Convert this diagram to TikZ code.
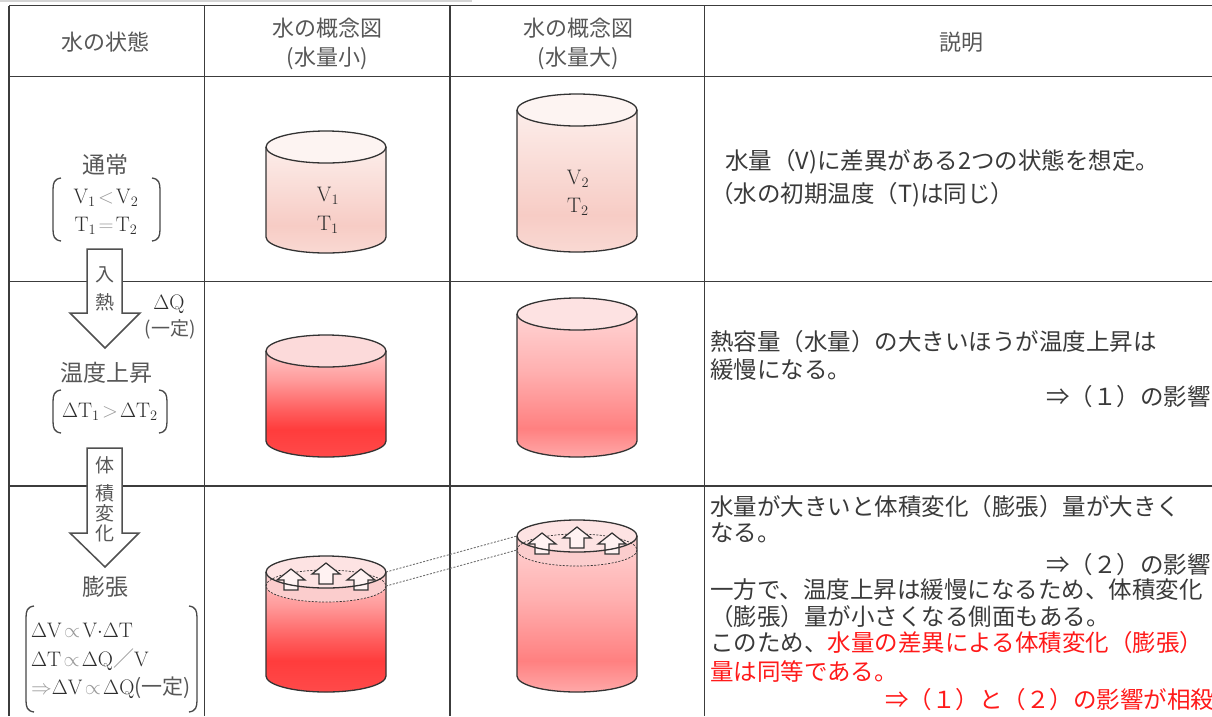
\documentclass[tikz,border=0pt]{standalone}
\usepackage{fontspec}
\newfontfamily\jp{Noto Sans CJK JP}

% palette
\definecolor{rulecol}{HTML}{3C3C3C}
\definecolor{faintrule}{HTML}{D4D4D4}
\definecolor{soft}{HTML}{575757}
\definecolor{mathink}{HTML}{2E2E2E}
\definecolor{faint}{HTML}{9A9A9A}
\definecolor{ink}{HTML}{3A3A3A}
\definecolor{alert}{HTML}{FF1A1A}
\definecolor{cylline}{HTML}{333333}
\definecolor{linkcol}{HTML}{707070}
\definecolor{brk}{HTML}{484848}
\definecolor{arrowcol}{HTML}{505050}
\definecolor{arrowfill}{HTML}{FFF2F2}

% body colours of the water columns
\definecolor{pA1}{HTML}{FCEDEA}
\definecolor{pA2}{HTML}{FAE0DB}
\definecolor{pA3}{HTML}{F7CCC5}
\definecolor{pA4}{HTML}{F9D9D3}
\definecolor{rB1}{HTML}{FFC8C8}
\definecolor{rB2}{HTML}{FF9A9A}
\definecolor{rB3}{HTML}{FF5E5E}
\definecolor{rB4}{HTML}{FF3C3C}
\definecolor{rB5}{HTML}{FF4A4A}
\definecolor{kC1}{HTML}{FFD3D3}
\definecolor{kC2}{HTML}{FFB0B0}
\definecolor{kC3}{HTML}{FF8080}
\definecolor{kC4}{HTML}{FFA8A8}
\definecolor{topA}{HTML}{FDF4F2}
\definecolor{topB}{HTML}{FCDADA}
\definecolor{topC}{HTML}{FDE2E2}
\definecolor{topD}{HTML}{FDE3E3}
\definecolor{bandD}{HTML}{FBCDCD}

% vertical shadings: the path's box is mapped onto 25bp..75bp
\pgfdeclareverticalshading{paleBody}{100bp}{color(0bp)=(pA4); color(25bp)=(pA4); color(38bp)=(pA3); color(60bp)=(pA2); color(75bp)=(pA1); color(100bp)=(pA1)}
\pgfdeclareverticalshading{hotBody}{100bp}{color(0bp)=(rB5); color(25bp)=(rB5); color(38bp)=(rB4); color(47bp)=(rB3); color(61bp)=(rB2); color(75bp)=(rB1); color(100bp)=(rB1)}
\pgfdeclareverticalshading{warmBody}{100bp}{color(0bp)=(kC4); color(25bp)=(kC4); color(35bp)=(kC3); color(55bp)=(kC2); color(75bp)=(kC1); color(100bp)=(kC1)}

% cylinder pieces: cx, top centre y, bottom centre y
\newcommand\cylfaces[5]{%
  \shade[shading=#4] (#1-60,#2) -- (#1-60,#3)
    arc[start angle=180,end angle=0,x radius=60,y radius=16] -- (#1+60,#2) -- cycle;
  \fill[#5] (#1,#2) ellipse[x radius=60,y radius=16];
}
\newcommand\cyloutline[3]{%
  \draw[outline] (#1-60,#2) -- (#1-60,#3)
    arc[start angle=180,end angle=0,x radius=60,y radius=16] -- (#1+60,#2);
  \draw[outline] (#1,#2) ellipse[x radius=60,y radius=16];
}
% band between the raised surface and the former water level
\newcommand\riseband[4]{%
  \fill[#4] (#1-60,#2) arc[start angle=180,end angle=0,x radius=60,y radius=16]
    -- (#1+60,#3) arc[start angle=0,end angle=180,x radius=60,y radius=16] -- cycle;
}
% small hollow up-arrow: centre x, tip y
\newcommand\risearrow[2]{%
  \draw[rise] (#1,#2) -- ++(14,11) -- ++(-7,0) -- ++(0,10) -- ++(-14,0)
    -- ++(0,-10) -- ++(-7,0) -- cycle;
}
% round brackets: x, top, bottom
\newcommand\lbrk[3]{\draw[bracket] (#1+8,#2) .. controls (#1+1,#2+1) and (#1,#2+5) .. (#1,#2+12) -- (#1,#3-12) .. controls (#1,#3-5) and (#1+1,#3-1) .. (#1+8,#3);}
\newcommand\rbrk[3]{\draw[bracket] (#1-8,#2) .. controls (#1-1,#2+1) and (#1,#2+5) .. (#1,#2+12) -- (#1,#3-12) .. controls (#1,#3-5) and (#1-1,#3-1) .. (#1-8,#3);}

\begin{document}
\begin{tikzpicture}[x=1pt,y=-1pt,
  grid/.style={draw=rulecol,line width=1.8pt},
  head/.style={font=\jp\fontsize{22}{26}\selectfont,text=soft,inner sep=0pt},
  state/.style={font=\jp\fontsize{23}{27}\selectfont,text=soft,inner sep=0pt},
  formula/.style={font=\fontsize{21}{25}\selectfont,text=mathink,inner sep=0pt},
  arrowtext/.style={font=\jp\fontsize{19}{22}\selectfont,text=soft,inner sep=0pt},
  note/.style={font=\jp\fontsize{23.5}{28}\selectfont,text=ink,anchor=west,inner sep=0pt},
  alertnote/.style={note,text=alert},
  bracket/.style={draw=brk,line width=1.3pt},
  flowarrow/.style={draw=arrowcol,line width=1.5pt,fill=white},
  outline/.style={draw=cylline,line width=1.3pt},
  level/.style={draw=cylline,line width=0.7pt,dash pattern=on 2pt off 1.5pt},
  link/.style={draw=linkcol,line width=0.9pt,dash pattern=on 2pt off 1.5pt},
  rise/.style={draw=cylline,line width=1.2pt,fill=arrowfill},
  label/.style={font=\fontsize{21}{25}\selectfont,text=mathink,inner sep=0pt},
]
\clip (0,0) rectangle (1212,716);
\fill[white] (0,0) rectangle (1212,716);

% ---------- table grid ----------
\draw[draw=faintrule,line width=2pt] (0,1) -- (472,1);
\draw[grid] (9,5.5) -- (1212,5.5);
\draw[grid] (9,76.5) -- (1212,76.5);
\draw[grid] (9,281.5) -- (1212,281.5);
\draw[grid] (9,486) -- (1212,486);
\draw[grid] (9,5.5) -- (9,716);
\draw[grid] (204.5,5.5) -- (204.5,716);
\draw[grid] (450,5.5) -- (450,716);
\draw[grid] (704.5,5.5) -- (704.5,716);

% ---------- header ----------
\node[head] (hState) at (105,42) {水の状態};
\node[head] (hSmallA) at (327,28) {水の概念図};
\node[head] (hSmallB) at (327,58) {(水量小)};
\node[head] (hLargeA) at (578,28) {水の概念図};
\node[head] (hLargeB) at (578,58) {(水量大)};
\node[head] (hNote) at (961,42) {説明};

% ---------- state column ----------
\node[state] (sNormal) at (105,165) {通常};
\lbrk{53}{178}{241}
\rbrk{160}{178}{241}
\node[formula] (sV) at (106,198) {$\thickmuskip=2mu\mathrm{V}_1\mathrel{\textcolor{faint}{<}}\mathrm{V}_2$};
\node[formula] (sT) at (106,226) {$\thickmuskip=2mu\mathrm{T}_1\mathrel{\textcolor{faint}{=}}\mathrm{T}_2$};

\draw[flowarrow] (87,249) -- (87,313) -- (70,313) -- (105,348) -- (140,313) -- (122,313) -- (122,249) -- cycle;
\node[arrowtext] (aIn) at (105,275) {入};
\node[arrowtext] (aHeat) at (105,302) {熱};
\node[formula] (dQ) at (169,304) {$\Delta\mathrm{Q}$};
\node[arrowtext] (dQc) at (170,329) {(一定)};

\node[state] (sRise) at (106,373) {温度上昇};
\lbrk{53}{390}{433}
\rbrk{167}{390}{433}
\node[formula] (sDT) at (110,412) {$\thickmuskip=2mu\Delta\mathrm{T}_1\mathrel{\textcolor{faint}{>}}\Delta\mathrm{T}_2$};

\draw[flowarrow] (87,448) -- (87,533) -- (70,533) -- (105,567) -- (139,533) -- (122,533) -- (122,448) -- cycle;
\node[arrowtext] (aV1) at (105,465) {体};
\node[arrowtext] (aV2) at (105,493) {積};
\node[arrowtext] (aV3) at (105,513) {変};
\node[arrowtext] (aV4) at (105,533) {化};

\node[state] (sExpand) at (105,587) {膨張};
\lbrk{26}{606}{712}
\rbrk{197}{606}{712}
\node[formula,anchor=west] (eqA) at (31,630) {$\thickmuskip=2mu\Delta\mathrm{V}\mathrel{\textcolor{faint}{\propto}}\mathrm{V}{\cdot}\Delta\mathrm{T}$};
\node[formula,anchor=west] (eqB) at (31,660) {$\thickmuskip=2mu\Delta\mathrm{T}\mathrel{\textcolor{faint}{\propto}}\Delta\mathrm{Q}$\textcolor{faint}{\jp ／}$\mathrm{V}$};
\node[formula,anchor=west] (eqC) at (31,688) {$\thickmuskip=2mu\textcolor{faint}{\Rightarrow}\Delta\mathrm{V}\mathrel{\textcolor{faint}{\propto}}\Delta\mathrm{Q}${\jp\color{soft}(一定)}};

% ---------- row 1: initial state ----------
\cylfaces{326}{147}{237}{paleBody}{topA}
\cyloutline{326}{147}{237}
\node[label] (v1) at (328,196) {$\mathrm{V}_1$};
\node[label] (t1) at (328,225) {$\mathrm{T}_1$};
\cylfaces{577}{110}{236}{paleBody}{topA}
\cyloutline{577}{110}{236}
\node[label] (v2) at (578,179) {$\mathrm{V}_2$};
\node[label] (t2) at (578,207) {$\mathrm{T}_2$};

% ---------- row 2: heated ----------
\cylfaces{326}{351}{441}{hotBody}{topB}
\cyloutline{326}{351}{441}
\cylfaces{577}{314}{441}{warmBody}{topC}
\cyloutline{577}{314}{441}

% ---------- row 3: expanded ----------
\cylfaces{326}{572}{676}{hotBody}{topD}
\riseband{326}{572}{586}{bandD}
\fill[topD] (326,572) ellipse[x radius=60,y radius=16];
\draw[level] (326,586) ellipse[x radius=60,y radius=16];
\risearrow{291}{569}
\risearrow{326}{563}
\risearrow{361}{569}
\cyloutline{326}{572}{676}

\cylfaces{577}{536}{676}{warmBody}{topD}
\riseband{577}{536}{550}{bandD}
\fill[topD] (577,536) ellipse[x radius=60,y radius=16];
\draw[level] (577,550) ellipse[x radius=60,y radius=16];
\risearrow{542}{533}
\risearrow{577}{527}
\risearrow{612}{533}
\cyloutline{577}{536}{676}

\coordinate (smallTop) at (386,572);
\coordinate (smallLevel) at (386,586);
\coordinate (largeTop) at (517,536);
\coordinate (largeLevel) at (517,550);
\draw[link] (smallTop) -- (largeTop);
\draw[link] (smallLevel) -- (largeLevel);

% ---------- explanation column ----------
\node[note] (n1a) at (725,162) {水量（V)に差異がある2つの状態を想定。};
\node[note] (n1b) at (710,195) {（水の初期温度（T)は同じ）};

\node[note] (n2a) at (710,342) {熱容量（水量）の大きいほうが温度上昇は};
\node[note] (n2b) at (710,370) {緩慢になる。};
\node[note] (n2c) at (1046,397) {⇒（１）の影響};

\node[note] (n3a) at (710,507) {水量が大きいと体積変化（膨張）量が大きく};
\node[note] (n3b) at (710,533) {なる。};
\node[note] (n3c) at (1046,565) {⇒（２）の影響};
\node[note] (n3d) at (710,590) {一方で、温度上昇は緩慢になるため、体積変化};
\node[note] (n3e) at (710,617) {（膨張）量が小さくなる側面もある。};
\node[note] (n3f) at (710,643) {このため、\textcolor{alert}{水量の差異による体積変化（膨張）}};
\node[alertnote] (n3g) at (710,672) {量は同等である。};
\node[alertnote] (n3h) at (885,700) {⇒（１）と（２）の影響が相殺};
\end{tikzpicture}
\end{document}
